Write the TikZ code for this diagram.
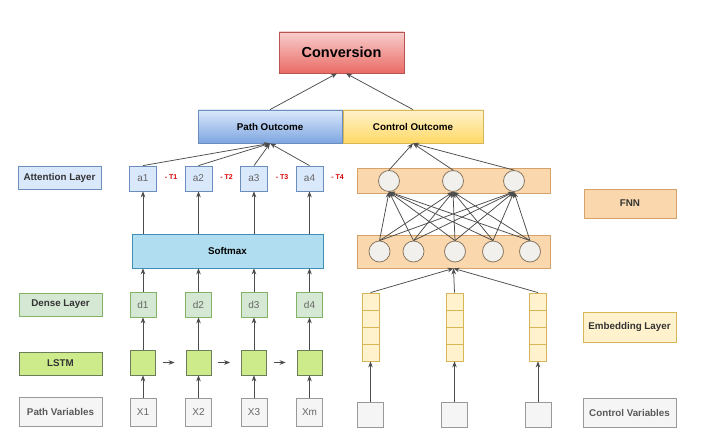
\documentclass[tikz,border=0pt]{standalone}
\usepackage{fontspec}
\setmainfont{Liberation Sans}
\usetikzlibrary{arrows.meta}
\definecolor{convtop}{HTML}{F8CECC}
\definecolor{convbot}{HTML}{EA6B66}
\definecolor{convline}{HTML}{B85450}
\definecolor{bfill}{HTML}{DAE8FC}
\definecolor{bline}{HTML}{6C8EBF}
\definecolor{poutbot}{HTML}{7EA6E0}
\definecolor{yfill}{HTML}{FFF2CC}
\definecolor{yline}{HTML}{D6B656}
\definecolor{coutbot}{HTML}{FFD966}
\definecolor{gfill}{HTML}{D5E8D4}
\definecolor{gline}{HTML}{82B366}
\definecolor{lstmfill}{HTML}{CDEB8B}
\definecolor{lstmline}{HTML}{6D7D5A}
\definecolor{ofill}{HTML}{FAD7AC}
\definecolor{oline}{HTML}{D4A26A}
\definecolor{vfill}{HTML}{F5F5F5}
\definecolor{vline}{HTML}{999999}
\definecolor{softfill}{HTML}{B1DDF0}
\definecolor{softline}{HTML}{3F8FB5}
\definecolor{nfill}{HTML}{F2F0EC}
\definecolor{nline}{HTML}{8A7A66}
\begin{document}
\begin{tikzpicture}[x=1pt,y=-1pt,
	font=\fontsize{9.8}{11}\selectfont\bfseries,
	box/.style={draw, line width=0.8pt, inner sep=0pt},
	layerlabel/.style={box, minimum width=83pt, text=black!80},
	unit/.style={box, minimum width=26pt, minimum height=25pt, font=\fontsize{10}{11}\selectfont, text=black!60},
	neuron/.style={circle, draw=nline, fill=nfill, line width=0.8pt, minimum size=21pt, inner sep=0pt},
	arr/.style={-{Stealth[length=6pt,width=4.6pt]}, draw=black!70, line width=0.75pt},
	tlabel/.style={font=\fontsize{7}{8}\selectfont\bfseries, text=red!85!black}]
		\useasboundingbox (0,0) rectangle (705,444);
		% outputs
		\node[box, draw=convline, top color=convtop, bottom color=convbot, minimum width=125pt, minimum height=41pt, font=\fontsize{14.5}{16}\selectfont\bfseries] (conv) at (341.5,52.5) {Conversion};
		\node[box, draw=bline, top color=bfill, bottom color=poutbot, minimum width=144pt, minimum height=33pt] (pout) at (270,126.5) {Path Outcome};
		\node[box, draw=yline, top color=yfill, bottom color=coutbot, minimum width=140pt, minimum height=33pt] (cout) at (413,126.5) {Control Outcome};
		\draw[arr] (pout.north) -- ([xshift=-4.5pt]conv.south);
		\draw[arr] (cout.north) -- ([xshift=4.5pt]conv.south);
		% layer labels
		\node[layerlabel, draw=bline, fill=bfill, minimum height=23pt] (latt) at (59.5,177.5) {Attention Layer};
		\node[layerlabel, draw=gline, fill=gfill, minimum height=23pt] (ldense) at (60.5,304.5) {Dense Layer};
		\node[layerlabel, draw=lstmline, fill=lstmfill, minimum height=23pt] (llstm) at (60.5,363.5) {LSTM};
		\node[layerlabel, draw=vline, fill=vfill, minimum height=29pt, text=black!65] (lpath) at (60.5,412) {Path Variables};
		\node[layerlabel, draw=oline, fill=ofill, minimum width=92pt, minimum height=29pt] (lfnn) at (630,203.5) {FNN};
		\node[layerlabel, draw=yline, fill=yfill, minimum width=93pt, minimum height=30pt] (lemb) at (629.5,327) {Embedding Layer};
		\node[layerlabel, draw=vline, fill=vfill, minimum width=93pt, minimum height=29pt, text=black!65] (lctrl) at (629.5,412.5) {Control Variables};
		% path side
		\node[box, draw=softline, fill=softfill, minimum width=191pt, minimum height=34pt] (soft) at (227.5,251) {Softmax};
		\foreach \i/\x/\t in {1/143/X1,2/198.5/X2,3/254/X3,4/309.5/Xm}
		{
			\node[unit, draw=vline, fill=vfill, minimum height=28pt] (x\i) at (\x,412) {\t};
			\node[unit, draw=lstmline, fill=lstmfill, minimum width=25pt] (s\i) at (\x,362.5) {};
			\node[unit, draw=gline, fill=gfill] (d\i) at (\x,304.5) {d\i};
			\node[unit, draw=bline, fill=bfill, minimum width=27pt] (a\i) at (\x,178.5) {a\i};
			\node[tlabel] (t\i) at (\x+28,177) {- T\i};
			\draw[arr] (x\i) -- (s\i);
			\draw[arr] (s\i) -- (d\i);
			\draw[arr] (d\i) -- (d\i |- soft.south);
			\draw[arr] (a\i |- soft.north) -- (a\i);
			\draw[arr] (a\i.north) -- (pout.south);
		}
		\foreach \i/\j in {1/2,2/3,3/4}
			\draw[arr, shorten <=7pt, shorten >=11pt] (s\i) -- (s\j);
		% control side
		\node[box, draw=oline, fill=ofill, minimum width=193pt, minimum height=25pt] (fnnup) at (453.5,180.5) {};
		\node[box, draw=oline, fill=ofill, minimum width=193pt, minimum height=33pt] (fnnlow) at (453.5,251.5) {};
		\foreach \j/\x in {1/389,2/453,3/514}
			\node[neuron] (u\j) at (\x,181) {};
		\foreach \i/\x in {1/379.5,2/413.5,3/455,4/493,5/530}
			\node[neuron] (h\i) at (\x,251.5) {};
		\foreach \i in {1,...,5}
		{
			\foreach \j in {1,2,3}
			{
				\draw[arr] (h\i.north) -- (u\j.south);
			}
		}
		\foreach \j in {1,2,3}
			\draw[arr] (u\j.north) -- (cout.south);
		\foreach \i/\x in {1/370.5,2/454.5,3/538}
		{
			\node[box, draw=yline, fill=yfill, minimum width=17pt, minimum height=68pt] (e\i) at (\x,327) {};
			\foreach \k in {1,2,3}
				\draw[yline, line width=0.8pt] (e\i.west) ++(0,17*\k-34) -- ++(17,0);
			\node[unit, draw=vline, fill=vfill] (c\i) at (\x,414.5) {};
			\draw[arr] (c\i) -- (e\i);
			\draw[arr] (e\i.north) -- (fnnlow.south);
		}
\end{tikzpicture}
\end{document}
